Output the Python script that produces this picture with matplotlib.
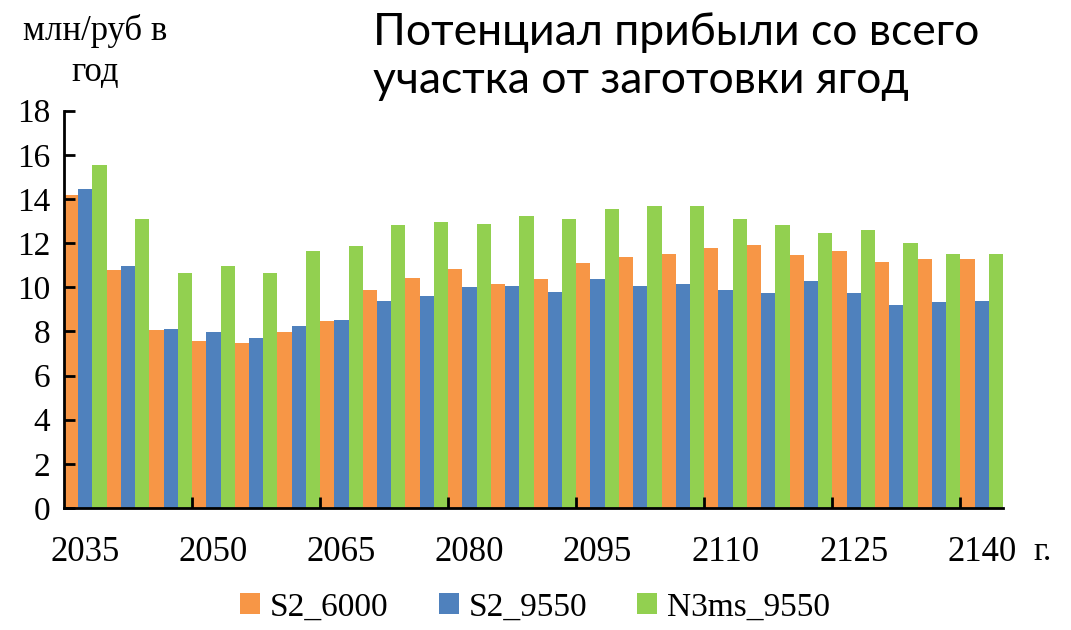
import matplotlib
matplotlib.use("Agg")
import matplotlib.pyplot as plt
from matplotlib.ticker import FixedLocator, NullFormatter

years = [2035, 2040, 2045, 2050, 2055, 2060, 2065, 2070, 2075, 2080, 2085,
         2090, 2095, 2100, 2105, 2110, 2115, 2120, 2125, 2130, 2135, 2140]
labels = ["S2_6000", "S2_9550", "N3ms_9550"]

s2_6000 = [14.17, 10.77, 8.05, 7.57, 7.49, 7.97, 8.46, 9.88, 10.42, 10.83, 10.15,
           10.36, 11.10, 11.39, 11.51, 11.78, 11.92, 11.45, 11.64, 11.16, 11.30, 11.30]
s2_9550 = [14.45, 10.98, 8.11, 7.97, 7.70, 8.25, 8.52, 9.39, 9.61, 10.01, 10.07,
           9.80, 10.36, 10.07, 10.15, 9.88, 9.74, 10.29, 9.74, 9.20, 9.33, 9.39]
n3ms_9550 = [15.53, 13.08, 10.63, 10.98, 10.63, 11.64, 11.86, 12.81, 12.94, 12.88, 13.21,
             13.08, 13.56, 13.70, 13.70, 13.08, 12.81, 12.46, 12.60, 11.99, 11.51, 11.51]

colors = ["#F79646", "#4F81BD", "#92D050"]
series = [s2_6000, s2_9550, n3ms_9550]

plt.rcParams["font.family"] = ["Liberation Serif", "DejaVu Serif"]

fig = plt.figure(figsize=(10.71, 6.30), dpi=100)
ax = fig.add_axes([64 / 1071, 1 - 508 / 630, (1003 - 64) / 1071, (508 - 110.7) / 630])

n = len(years)
for s, (vals, c, lab) in enumerate(zip(series, colors, labels)):
    xs = [3 * g + s + 0.5 for g in range(n)]
    ax.bar(xs, vals, width=1.0, color=c, label=lab, linewidth=0)

ax.set_xlim(0, 3 * n)
ax.set_ylim(0, 18)
ax.set_yticks(range(0, 19, 2))

# tick marks at group boundaries every 3 groups, labels under every 3rd group
ax.xaxis.set_major_locator(FixedLocator([9 * k for k in range(1, 8)]))
ax.xaxis.set_major_formatter(NullFormatter())
ax.xaxis.set_minor_locator(FixedLocator([3 * g + 1.5 for g in range(0, n, 3)]))
ax.set_xticklabels([str(years[g]) for g in range(0, n, 3)], minor=True)
ax.tick_params(axis="x", which="major", direction="in", length=8, width=2)
ax.tick_params(axis="x", which="minor", length=0, pad=20, labelsize=25)
ax.tick_params(axis="y", direction="in", length=8, width=2, labelsize=24, pad=10)

for side in ["top", "right"]:
    ax.spines[side].set_visible(False)
for side in ["left", "bottom"]:
    ax.spines[side].set_linewidth(2)

fig.text(95 / 1071, 1 - 14 / 630, "млн/руб в\nгод", ha="center", va="top",
         fontsize=25, linespacing=1.3)
fig.text(373 / 1071, 1 - 12 / 630, "Потенциал прибыли со всего\nучастка от заготовки ягод",
         ha="left", va="top", fontsize=32, family="Lato", linespacing=1.22)
fig.text(1043 / 1071, 1 - 552 / 630, "г.", ha="center", va="center", fontsize=24)

fig.legend(loc="center", bbox_to_anchor=(535 / 1071, 1 - 607 / 630), ncol=3,
           frameon=False, prop={"size": 24},
           handlelength=0.6, handleheight=0.6, handletextpad=0.3, columnspacing=1.5)

fig.savefig("out.png", dpi=100)
